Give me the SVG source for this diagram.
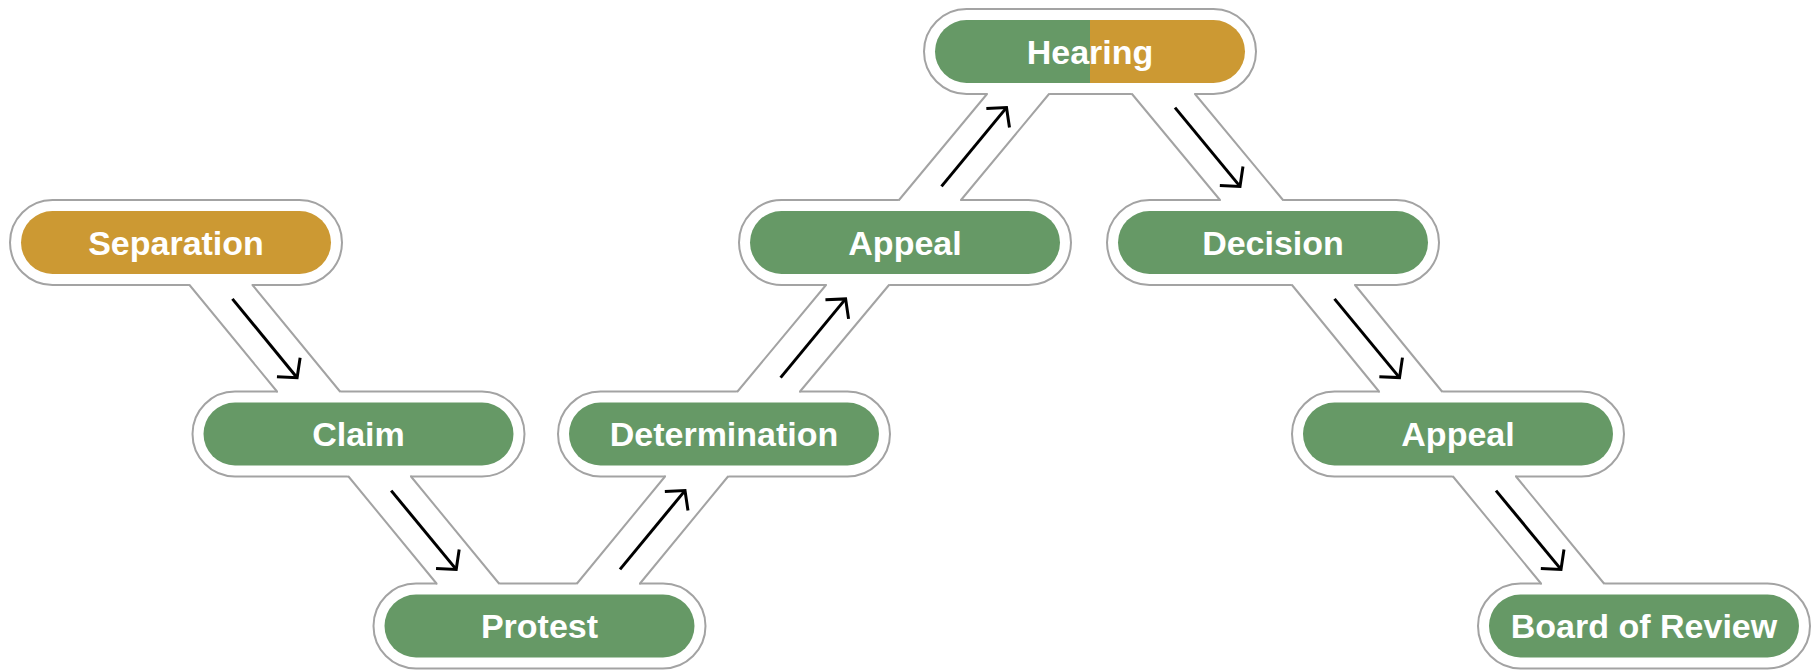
<svg xmlns="http://www.w3.org/2000/svg" width="1814" height="670" viewBox="0 0 1814 670">
  <style>
    .outer { fill: #ffffff; stroke: #a3a3a3; stroke-width: 2; }
    .green { fill: #669966; }
    .gold { fill: #cc9933; }
    .label { font-family: "Liberation Sans", Arial, sans-serif; font-weight: bold; font-size: 34px; fill: #ffffff; text-anchor: middle; }
    .band { fill: #ffffff; stroke: none; }
    .side { stroke: #a3a3a3; stroke-width: 2; stroke-linecap: round; fill: none; }
    .arrow { stroke: #000000; stroke-width: 3; fill: none; marker-end: url(#head); }
  </style>
  <defs>
    <marker id="head" markerUnits="userSpaceOnUse" viewBox="-20 -20 25 40" markerWidth="25" markerHeight="40" refX="0" refY="0" orient="auto" overflow="visible">
      <path d="M-13.5,-15 L0,0 L-13.5,15" fill="none" stroke="#000000" stroke-width="3" stroke-linejoin="miter"/>
    </marker>
  </defs>
  <rect x="0" y="0" width="1814" height="670" fill="#ffffff"/>

  <g id="nodes">
    <g id="node-separation">
      <rect class="outer" x="10" y="200" width="332" height="85" rx="42.5"/>
      <rect class="gold" x="21" y="211" width="310" height="63" rx="31.5"/>
      <text class="label" x="176" y="254.5">Separation</text>
    </g>
    <g id="node-claim">
      <rect class="outer" x="192.5" y="391.5" width="332" height="85" rx="42.5"/>
      <rect class="green" x="203.5" y="402.5" width="310" height="63" rx="31.5"/>
      <text class="label" x="358.5" y="446">Claim</text>
    </g>
    <g id="node-protest">
      <rect class="outer" x="373.5" y="583.5" width="332" height="85" rx="42.5"/>
      <rect class="green" x="384.5" y="594.5" width="310" height="63" rx="31.5"/>
      <text class="label" x="539.5" y="638">Protest</text>
    </g>
    <g id="node-determination">
      <rect class="outer" x="558" y="391.5" width="332" height="85" rx="42.5"/>
      <rect class="green" x="569" y="402.5" width="310" height="63" rx="31.5"/>
      <text class="label" x="724" y="446">Determination</text>
    </g>
    <g id="node-appeal-1">
      <rect class="outer" x="739" y="200" width="332" height="85" rx="42.5"/>
      <rect class="green" x="750" y="211" width="310" height="63" rx="31.5"/>
      <text class="label" x="905" y="254.5">Appeal</text>
    </g>
    <g id="node-hearing">
      <rect class="outer" x="924" y="9" width="332" height="85" rx="42.5"/>
      <path class="green" d="M1090,20 H966.5 A31.5,31.5 0 0 0 966.5,83 H1090 Z"/>
      <path class="gold" d="M1090,20 H1213.5 A31.5,31.5 0 0 1 1213.5,83 H1090 Z"/>
      <text class="label" x="1090" y="63.5">Hearing</text>
    </g>
    <g id="node-decision">
      <rect class="outer" x="1107" y="200" width="332" height="85" rx="42.5"/>
      <rect class="green" x="1118" y="211" width="310" height="63" rx="31.5"/>
      <text class="label" x="1273" y="254.5">Decision</text>
    </g>
    <g id="node-appeal-2">
      <rect class="outer" x="1292" y="391.5" width="332" height="85" rx="42.5"/>
      <rect class="green" x="1303" y="402.5" width="310" height="63" rx="31.5"/>
      <text class="label" x="1458" y="446">Appeal</text>
    </g>
    <g id="node-board-of-review">
      <rect class="outer" x="1478" y="583.5" width="332" height="85" rx="42.5"/>
      <rect class="green" x="1489" y="594.5" width="310" height="63" rx="31.5"/>
      <text class="label" x="1644" y="638">Board of Review</text>
    </g>
  </g>

  <g id="connectors">
    <g id="edge-separation-claim">
      <polygon class="band" points="186.2,281 249.2,281 343.3,395.5 280.3,395.5"/>
      <line class="side" x1="189.5" y1="285" x2="277" y2="391.5"/>
      <line class="side" x1="252.5" y1="285" x2="340" y2="391.5"/>
      <line class="arrow" x1="232.4" y1="298.9" x2="297.1" y2="377.7"/>
    </g>
    <g id="edge-claim-protest">
      <polygon class="band" points="345.2,472.5 407.7,472.5 502.3,587.5 439.8,587.5"/>
      <line class="side" x1="348.5" y1="476.5" x2="436.5" y2="583.5"/>
      <line class="side" x1="411" y1="476.5" x2="499" y2="583.5"/>
      <line class="arrow" x1="391.2" y1="490.6" x2="456.2" y2="569.4"/>
    </g>
    <g id="edge-protest-determination">
      <polygon class="band" points="573.7,587.5 636.7,587.5 731.3,472.5 668.3,472.5"/>
      <line class="side" x1="577" y1="583.5" x2="665" y2="476.5"/>
      <line class="side" x1="640" y1="583.5" x2="728" y2="476.5"/>
      <line class="arrow" x1="620" y1="569.4" x2="685" y2="490.6"/>
    </g>
    <g id="edge-determination-appeal">
      <polygon class="band" points="734.2,395.5 796.7,395.5 892.3,281 829.3,281"/>
      <line class="side" x1="737.5" y1="391.5" x2="826" y2="285"/>
      <line class="side" x1="800" y1="391.5" x2="889" y2="285"/>
      <line class="arrow" x1="780.6" y1="377.6" x2="845.6" y2="298.9"/>
    </g>
    <g id="edge-appeal-hearing">
      <polygon class="band" points="895.7,204 957.7,204 1052.3,90 990.3,90"/>
      <line class="side" x1="899" y1="200" x2="987" y2="94"/>
      <line class="side" x1="961" y1="200" x2="1049" y2="94"/>
      <line class="arrow" x1="941.5" y1="186.4" x2="1006.5" y2="107.6"/>
    </g>
    <g id="edge-hearing-decision">
      <polygon class="band" points="1128.7,90 1191.7,90 1286.3,204 1223.3,204"/>
      <line class="side" x1="1132" y1="94" x2="1220" y2="200"/>
      <line class="side" x1="1195" y1="94" x2="1283" y2="200"/>
      <line class="arrow" x1="1175" y1="107.6" x2="1240" y2="186.4"/>
    </g>
    <g id="edge-decision-appeal">
      <polygon class="band" points="1288.7,281 1351.7,281 1445.3,395.5 1382.3,395.5"/>
      <line class="side" x1="1292" y1="285" x2="1379" y2="391.5"/>
      <line class="side" x1="1355" y1="285" x2="1442" y2="391.5"/>
      <line class="arrow" x1="1334.5" y1="298.9" x2="1399.5" y2="377.6"/>
    </g>
    <g id="edge-appeal-board">
      <polygon class="band" points="1449.7,472.5 1512.7,472.5 1607.3,587.5 1544.3,587.5"/>
      <line class="side" x1="1453" y1="476.5" x2="1541" y2="583.5"/>
      <line class="side" x1="1516" y1="476.5" x2="1604" y2="583.5"/>
      <line class="arrow" x1="1496" y1="490.6" x2="1561" y2="569.4"/>
    </g>
  </g>
</svg>
